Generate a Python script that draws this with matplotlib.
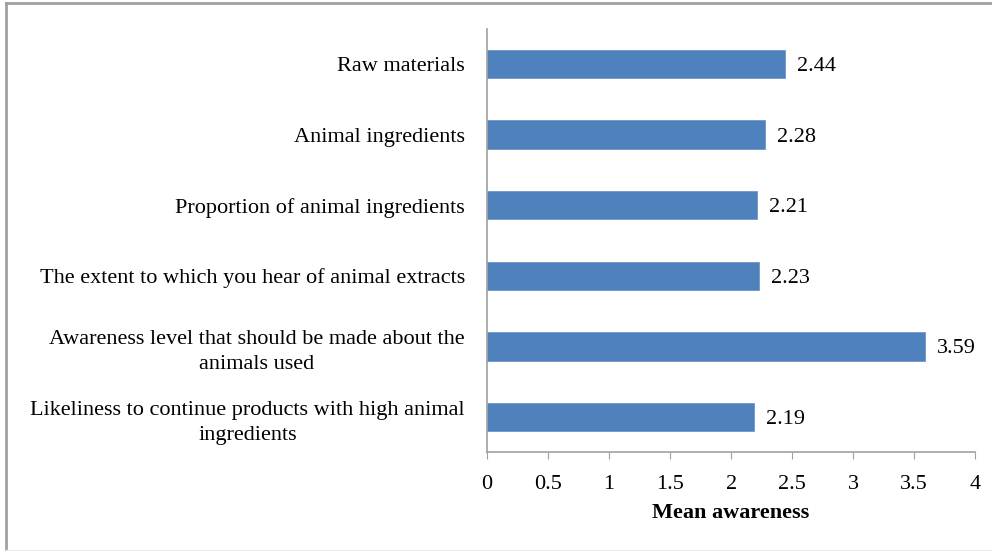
import matplotlib.pyplot as plt
from matplotlib.lines import Line2D

# survey items, listed top to bottom
categories = [
    "Raw materials",
    "Animal ingredients",
    "Proportion of animal ingredients",
    "The extent to which you hear of animal extracts",
    "Awareness level that should be made about the\nanimals used",
    "Likeliness to continue products with high animal\ningredients",
]
means = [2.44, 2.28, 2.21, 2.23, 3.59, 2.19]
xticks = [0, 0.5, 1, 1.5, 2, 2.5, 3, 3.5, 4]
xtick_labels = ["0", "0.5", "1", "1.5", "2", "2.5", "3", "3.5", "4"]

plt.rcParams["font.family"] = ["Liberation Serif", "DejaVu Serif"]
FS = 16

fig = plt.figure(figsize=(9.92, 5.51), dpi=100)
ax = fig.add_axes([0.491, 0.179, 0.492, 0.769])

ypos = list(range(len(categories)))[::-1]
ax.barh(ypos, means, height=0.4, color="#4F81BD", edgecolor="#6E97CA", linewidth=0.6)

for y, v in zip(ypos, means):
    ax.text(v + 0.1, y, f"{v:.2f}", va="center_baseline", ha="left", fontsize=FS)

ax.set_xlim(0, 4)
ax.set_ylim(-0.5, len(categories) - 0.5)
ax.set_xticks(xticks)
ax.set_xticklabels(xtick_labels, fontsize=FS)
ax.set_yticks(ypos)
ax.set_yticklabels(categories, fontsize=FS, multialignment="center", linespacing=1.45)
ax.tick_params(axis="y", length=0, pad=16)
ax.tick_params(axis="x", length=5, color="#A0A0A0", pad=11)
ax.set_xlabel("Mean awareness", fontsize=FS, fontweight="bold", labelpad=7)

for side in ("top", "right"):
    ax.spines[side].set_visible(False)
for side in ("left", "bottom"):
    ax.spines[side].set_color("#A0A0A0")
    ax.spines[side].set_linewidth(1.2)

# outer frame: left and top edges only
fig.add_artist(Line2D([0.0065, 0.0065], [0, 0.994], transform=fig.transFigure,
                      color="#A0A0A0", linewidth=2))
fig.add_artist(Line2D([0.0065, 1], [0.994, 0.994], transform=fig.transFigure,
                      color="#A0A0A0", linewidth=2))
fig.add_artist(Line2D([0.0065, 1], [0.002, 0.002], transform=fig.transFigure,
                      color="#EEEEEE", linewidth=1))

fig.savefig("out.png", dpi=100)
